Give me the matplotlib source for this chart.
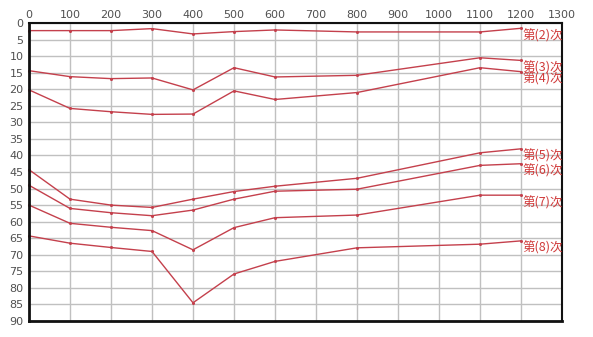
import matplotlib
matplotlib.use("Agg")
import matplotlib.pyplot as plt

depths = [0, 100, 200, 300, 400, 500, 600, 800, 1100, 1200]
series_names = ["第(2)次", "第(3)次", "第(4)次", "第(5)次", "第(6)次", "第(7)次", "第(8)次"]
s2 = [2.3, 2.3, 2.3, 1.7, 3.3, 2.6, 2.1, 2.7, 2.7, 1.6]
s3 = [14.4, 16.2, 16.8, 16.6, 20.2, 13.5, 16.3, 15.8, 10.5, 11.3]
s4 = [20.2, 25.8, 26.8, 27.6, 27.5, 20.5, 23.1, 21.0, 13.5, 14.7]
s5 = [44.3, 53.2, 55.0, 55.7, 53.2, 50.9, 49.3, 46.9, 39.2, 38.0]
s6 = [49.0, 56.0, 57.3, 58.2, 56.5, 53.2, 50.8, 50.2, 43.0, 42.5]
s7 = [55.0, 60.5, 61.7, 62.7, 68.5, 61.8, 58.8, 58.0, 52.0, 52.0]
s8 = [64.3, 66.5, 67.8, 69.0, 84.5, 75.8, 72.0, 67.9, 66.8, 65.8]
all_series = [s2, s3, s4, s5, s6, s7, s8]
x_ticks = list(range(0, 1301, 100))
y_ticks = list(range(0, 91, 5))

fig = plt.figure(figsize=(5.93, 3.37), dpi=100)
ax = fig.add_axes([29/593, 1-321/337, (562-29)/593, (321-23)/337])
ax.set_xlim(0, 1300)
ax.set_ylim(90, 0)
ax.set_xticks(x_ticks)
ax.set_yticks(y_ticks)
ax.grid(True, color="#c0c0c0", linewidth=1.0)
ax.set_axisbelow(True)
ax.xaxis.tick_top()
ax.tick_params(axis="both", length=0, labelsize=8, labelcolor="#505050")
ax.tick_params(axis="x", pad=2)
ax.tick_params(axis="y", pad=4)
for side, lw in [("left", 2.0), ("bottom", 2.0), ("top", 1.5), ("right", 1.5)]:
    ax.spines[side].set_linewidth(lw)
    ax.spines[side].set_color("#111111")

line_color = "#c4404c"
text_color = "#d03a3a"
for name, vals in zip(series_names, all_series):
    ax.plot(depths, vals, color=line_color, linewidth=1.0, marker="o", markersize=1.2,
            clip_on=False)
    ax.text(depths[-1] + 3, vals[-1] + 0.2, name, color=text_color, fontsize=9,
            ha="left", va="top", family=["Noto Sans CJK SC", "DejaVu Sans"])

fig.savefig("out.png", dpi=100)
